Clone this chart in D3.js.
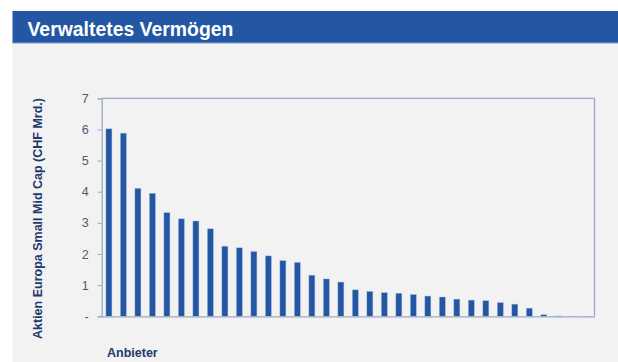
<!DOCTYPE html>
<html>
<head>
<meta charset="utf-8">
<script src="https://cdn.jsdelivr.net/npm/d3@7"></script>
<style>
  html, body { margin: 0; padding: 0; background: #ffffff; }
  svg { display: block; }
</style>
</head>
<body>
<svg id="chart" width="618" height="362"></svg>
<script>
// Assets under management per provider, CHF billions (Aktien Europa Small Mid Cap)
const providers = d3.range(1, 35).map(i => "Anbieter " + i);
const aum = [6.02, 5.88, 4.11, 3.95, 3.33, 3.13, 3.06, 2.81, 2.25, 2.20, 2.08, 1.94,
             1.79, 1.73, 1.32, 1.20, 1.10, 0.85, 0.80, 0.76, 0.74, 0.70, 0.65, 0.62,
             0.55, 0.52, 0.50, 0.44, 0.39, 0.26, 0.05, 0.01, 0.003, 0.002];
const yTicks = [0, 1, 2, 3, 4, 5, 6, 7];
const yTickLabels = ["-", "1", "2", "3", "4", "5", "6", "7"];
const titleText = "Verwaltetes Vermögen";
const yTitle = "Aktien Europa Small Mid Cap (CHF Mrd.)";
const xTitle = "Anbieter";

const svg = d3.select("#chart");
const W = 618, H = 362;

// panel background
svg.append("rect").attr("x", 12.5).attr("y", 43).attr("width", W - 12.5).attr("height", H - 43)
  .attr("fill", "#f2f2f2");

// header band
svg.append("rect").attr("x", 12.5).attr("y", 11).attr("width", W - 12.5).attr("height", 32)
  .attr("fill", "#2356a3");
svg.append("line").attr("x1", 12.5).attr("x2", W).attr("y1", 43).attr("y2", 43)
  .attr("stroke", "#7f9fd0").attr("stroke-width", 1);
svg.append("text").attr("x", 27.5).attr("y", 35.8)
  .attr("font-family", "Liberation Sans, Arial, sans-serif").attr("font-weight", "bold")
  .attr("font-size", 19.4).attr("fill", "#ffffff").text(titleText);

// plot area
const plot = { left: 101.7, right: 594.5, top: 98.3, bottom: 316.3 };

const x = d3.scaleBand().domain(providers).range([plot.left, plot.right])
  .paddingInner(0.585).paddingOuter(0.29);
const y = d3.scaleLinear().domain([0, 7]).range([plot.bottom, plot.top]);

// frame: top and right edges
svg.append("path")
  .attr("d", `M${plot.left},${plot.top}H${plot.right}V${plot.bottom}`)
  .attr("fill", "none").attr("stroke", "#9aaac4").attr("stroke-width", 1.3);

// bars
svg.append("g").selectAll("rect").data(aum).join("rect")
  .attr("x", (d, i) => x(providers[i]))
  .attr("y", d => y(d))
  .attr("width", x.bandwidth())
  .attr("height", d => plot.bottom - y(d))
  .attr("fill", "#2356a3")
  .attr("stroke", "#a9bedf").attr("stroke-width", 0.6).attr("stroke-opacity", 0.7);

// y axis
const yAxis = d3.axisLeft(y).tickValues(yTicks)
  .tickFormat((d, i) => yTickLabels[i]).tickSize(4).tickPadding(9);
const gy = svg.append("g").attr("transform", `translate(${plot.left},0)`).call(yAxis);
gy.select(".domain").attr("stroke", "#9aaac4").attr("stroke-width", 1.3);
gy.selectAll(".tick line").attr("stroke", "#9aaac4");
gy.selectAll(".tick text")
  .attr("font-family", "Liberation Sans, Arial, sans-serif").attr("font-size", 12.5)
  .attr("fill", "#4b5a78");

// x axis (baseline only)
const xAxis = d3.axisBottom(x).tickSize(0).tickFormat("");
const gx = svg.append("g").attr("transform", `translate(0,${plot.bottom})`).call(xAxis);
gx.select(".domain").attr("stroke", "#9aaac4").attr("stroke-width", 1.3);

// axis titles
svg.append("text")
  .attr("transform", "translate(42,218.5) rotate(-90)")
  .attr("text-anchor", "middle")
  .attr("font-family", "Liberation Sans, Arial, sans-serif").attr("font-weight", "bold")
  .attr("font-size", 12.5).attr("fill", "#1f3a6e").text(yTitle);

svg.append("text").attr("x", 107).attr("y", 356.5)
  .attr("font-family", "Liberation Sans, Arial, sans-serif").attr("font-weight", "bold")
  .attr("font-size", 12.5).attr("fill", "#1f3a6e").text(xTitle);
</script>
</body>
</html>
